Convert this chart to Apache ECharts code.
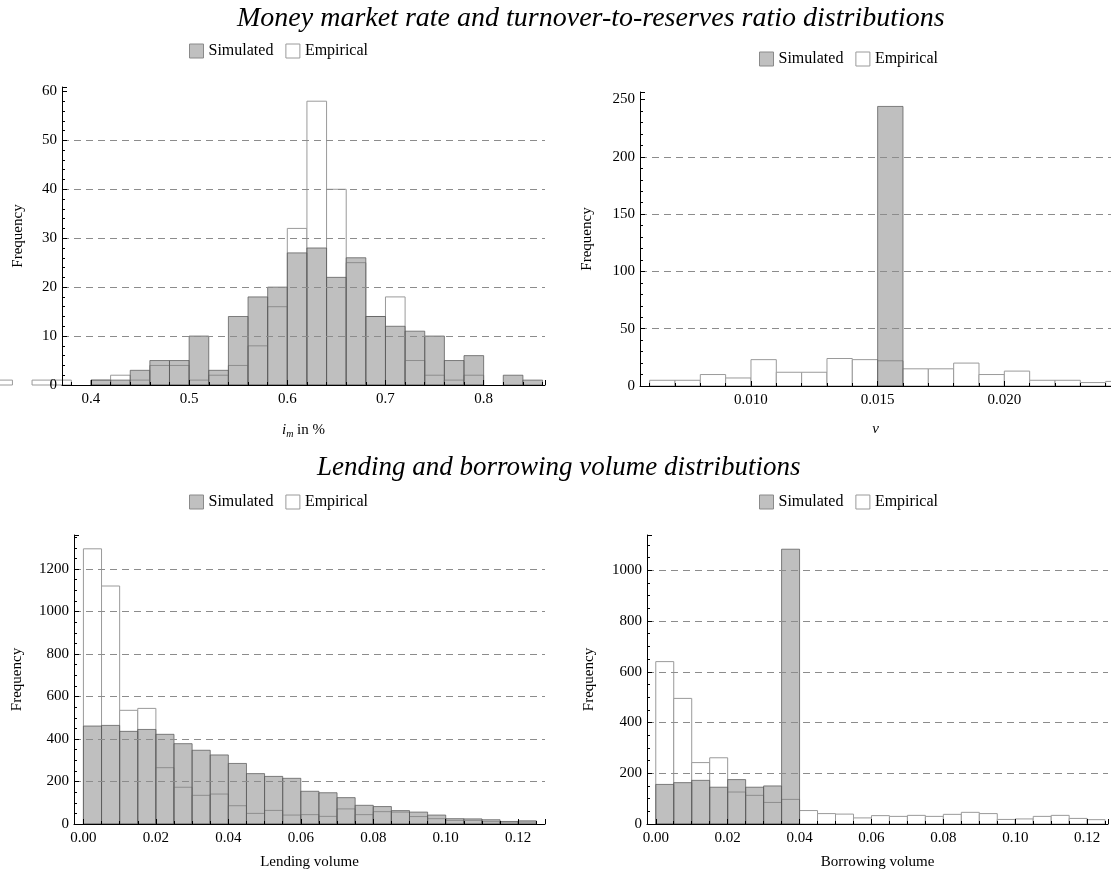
<!DOCTYPE html>
<html>
<head>
<meta charset="utf-8">
<script src="https://cdn.jsdelivr.net/npm/echarts@6/dist/echarts.min.js"></script>
<style>
    html, body { margin: 0; background: #fff; }
    #main { width: 1111px; height: 875px; }
</style>
</head>
<body>
<div id="main"></div>
<script>
    // money market rate, bins of 0.02 from 0.30
    var rateStart = 0.30, rateWidth = 0.02;
    var rateSim = [0, 0, 0, 0, 0, 1, 1, 3, 5, 5, 10, 3, 14, 18, 20, 27, 28, 22, 26, 14, 12, 11, 10, 5, 6, 0, 2, 1];
    var rateEmp = [1, 0, 1, 1, 0, 1, 2, 1, 4, 4, 1, 2, 4, 8, 16, 32, 58, 40, 25, 14, 18, 5, 2, 1, 2, 0, 0, 0];

    // turnover-to-reserves ratio, bins of 0.001 from 0.006
    var ratioStart = 0.006, ratioWidth = 0.001;
    var ratioSim = [0, 0, 0, 0, 0, 0, 0, 0, 0, 244, 0, 0, 0, 0, 0, 0, 0, 0, 0];
    var ratioEmp = [5, 5, 10, 7, 23, 12, 12, 24, 23, 22, 15, 15, 20, 10, 13, 5, 5, 3, 4];

    // lending / borrowing volume, bins of 0.005 from 0
    var volStart = 0, volWidth = 0.005;
    var lendSim = [461, 464, 436, 445, 422, 378, 347, 325, 285, 237, 224, 215, 154, 147, 124, 88, 82, 63, 56, 42, 25, 24, 20, 12, 15];
    var lendEmp = [1295, 1120, 535, 544, 265, 173, 135, 141, 86, 50, 64, 42, 44, 36, 71, 44, 58, 56, 35, 25, 17, 17, 11, 9, 9];
    var borrSim = [156, 163, 172, 145, 175, 145, 150, 1083, 0, 0, 0, 0, 0, 0, 0, 0, 0, 0, 0, 0, 0, 0, 0, 0, 0];
    var borrEmp = [640, 495, 242, 261, 126, 113, 85, 97, 53, 41, 39, 24, 33, 30, 34, 30, 38, 46, 41, 18, 20, 30, 34, 22, 17];

    // dashed grid lines
    var rateGrid = [10, 20, 30, 40, 50];
    var ratioGrid = [50, 100, 150, 200];
    var lendGrid = [200, 400, 600, 800, 1000, 1200];
    var borrGrid = [200, 400, 600, 800, 1000];

    var SIM_FILL = 'rgba(128,128,128,0.5)';
    var SIM_LINE = 'rgba(90,90,90,0.75)';
    var EMP_FILL = '#ffffff';
    var EMP_LINE = '#9a9a9a';
    var FONT = 'Liberation Serif';

    function bins(start, width, values) {
        var out = [];
        values.forEach(function (v, i) {
            if (v > 0) out.push([start + i * width, start + (i + 1) * width, v]);
        });
        return out;
    }

    function histSeries(name, idx, data, fill, stroke, z) {
        return {
            name: name,
            type: 'custom',
            xAxisIndex: idx,
            yAxisIndex: idx,
            z: z,
            silent: true,
            animation: false,
            itemStyle: { color: fill === EMP_FILL ? '#fff' : '#c0c0c0' },
            encode: { x: [0, 1], y: 2 },
            data: data,
            renderItem: function (params, api) {
                var p0 = api.coord([api.value(0), api.value(2)]);
                var p1 = api.coord([api.value(1), 0]);
                return {
                    type: 'rect',
                    shape: { x: p0[0], y: p0[1], width: p1[0] - p0[0], height: p1[1] - p0[1] },
                    style: { fill: fill, stroke: stroke, lineWidth: 1 }
                };
            }
        };
    }

    function gridLines(idx, values) {
        return {
            type: 'line',
            xAxisIndex: idx,
            yAxisIndex: idx,
            data: [],
            z: 1,
            silent: true,
            animation: false,
            markLine: {
                silent: true,
                animation: false,
                symbol: ['none', 'none'],
                label: { show: false },
                lineStyle: { type: [7, 5], color: '#8c8c8c', width: 1 },
                data: values.map(function (v) { return { yAxis: v }; })
            }
        };
    }

    function xAxis(idx, min, max, split, digits, name, gap, minor) {
        return {
            type: 'value',
            gridIndex: idx,
            z: 5,
            min: min,
            max: max,
            splitNumber: split,
            name: name,
            nameLocation: 'middle',
            nameGap: gap,
            nameTextStyle: { fontFamily: FONT, fontSize: 15, color: '#000',
                rich: { i: { fontFamily: FONT, fontStyle: 'italic', fontSize: 15 },
                        s: { fontFamily: FONT, fontStyle: 'italic', fontSize: 10, verticalAlign: 'bottom', padding: [8, 0, 0, 0] } } },
            axisLine: { onZero: false, lineStyle: { color: '#000', width: 1 } },
            axisTick: { inside: true, length: 5, lineStyle: { color: '#000' } },
            minorTick: { show: true, splitNumber: minor, length: 3, lineStyle: { color: '#000' } },
            splitLine: { show: false },
            axisLabel: {
                fontFamily: FONT, fontSize: 15, color: '#000', margin: 7,
                showMinLabel: false, showMaxLabel: false,
                formatter: function (v) { return v.toFixed(digits); }
            }
        };
    }

    function yAxis(idx, max, interval, gap, minor) {
        return {
            type: 'value',
            gridIndex: idx,
            z: 5,
            min: 0,
            max: max,
            interval: interval,
            name: 'Frequency',
            nameLocation: 'middle',
            nameRotate: 90,
            nameGap: gap,
            nameTextStyle: { fontFamily: FONT, fontSize: 15, color: '#000' },
            axisLine: { show: true, onZero: false, lineStyle: { color: '#000', width: 1 } },
            axisTick: { show: true, inside: true, length: 5, lineStyle: { color: '#000' } },
            minorTick: { show: true, splitNumber: minor, length: 3, lineStyle: { color: '#000' } },
            splitLine: { show: false },
            axisLabel: {
                fontFamily: FONT, fontSize: 15, color: '#000', margin: 5, showMaxLabel: false,
                formatter: function (v) { return String(v); }
            }
        };
    }

    function legend(left, top) {
        return {
            left: left,
            top: top,
            selectedMode: false,
            icon: 'rect',
            itemWidth: 14,
            itemHeight: 14,
            itemGap: 12,
            textStyle: { fontFamily: FONT, fontSize: 16, color: '#000' },
            data: [
                { name: 'Simulated', itemStyle: { color: '#c0c0c0', borderColor: '#8a8a8a', borderWidth: 1 } },
                { name: 'Empirical', itemStyle: { color: '#ffffff', borderColor: '#9a9a9a', borderWidth: 1 } }
            ]
        };
    }

    var chartDom = document.getElementById('main');
    var myChart = echarts.init(chartDom);

    var option = {
        backgroundColor: '#fff',
        animation: false,
        title: [
            { text: 'Money market rate and turnover-to-reserves ratio distributions', left: 232, top: 0,
              textStyle: { fontFamily: FONT, fontStyle: 'italic', fontWeight: 'normal', fontSize: 28, color: '#000' } },
            { text: 'Lending and borrowing volume distributions', left: 312, top: 449,
              textStyle: { fontFamily: FONT, fontStyle: 'italic', fontWeight: 'normal', fontSize: 27, color: '#000' } }
        ],
        legend: [legend(184, 38), legend(754, 46), legend(184, 489), legend(754, 489)],
        grid: [
            { left: 62, top: 87, width: 483, height: 298 },
            { left: 640, top: 92, width: 471, height: 294 },
            { left: 74, top: 535, width: 471, height: 289 },
            { left: 647, top: 535, width: 461, height: 289 }
        ],
        xAxis: [
            xAxis(0, 0.3705, 0.8625, 5, 1, '{i|i}{s|m} in %', 36, 5),
            xAxis(1, 0.00562, 0.02421, 4, 3, '{i|v}', 36, 5),
            xAxis(2, -0.0026, 0.1274, 6, 2, 'Lending volume', 31, 4),
            xAxis(3, -0.00244, 0.1258, 6, 2, 'Borrowing volume', 31, 4)
        ],
        yAxis: [
            yAxis(0, 60.9, 10, 36, 5),
            yAxis(1, 256.6, 50, 45, 5),
            yAxis(2, 1360, 200, 49, 4),
            yAxis(3, 1139, 200, 50, 4)
        ],
        series: [
            gridLines(0, rateGrid),
            histSeries('Empirical', 0, bins(rateStart, rateWidth, rateEmp), EMP_FILL, EMP_LINE, 2),
            histSeries('Simulated', 0, bins(rateStart, rateWidth, rateSim), SIM_FILL, SIM_LINE, 3),
            gridLines(1, ratioGrid),
            histSeries('Empirical', 1, bins(ratioStart, ratioWidth, ratioEmp), EMP_FILL, EMP_LINE, 2),
            histSeries('Simulated', 1, bins(ratioStart, ratioWidth, ratioSim), SIM_FILL, SIM_LINE, 3),
            gridLines(2, lendGrid),
            histSeries('Empirical', 2, bins(volStart, volWidth, lendEmp), EMP_FILL, EMP_LINE, 2),
            histSeries('Simulated', 2, bins(volStart, volWidth, lendSim), SIM_FILL, SIM_LINE, 3),
            gridLines(3, borrGrid),
            histSeries('Empirical', 3, bins(volStart, volWidth, borrEmp), EMP_FILL, EMP_LINE, 2),
            histSeries('Simulated', 3, bins(volStart, volWidth, borrSim), SIM_FILL, SIM_LINE, 3)
        ]
    };

    option && myChart.setOption(option);
</script>
</body>
</html>
